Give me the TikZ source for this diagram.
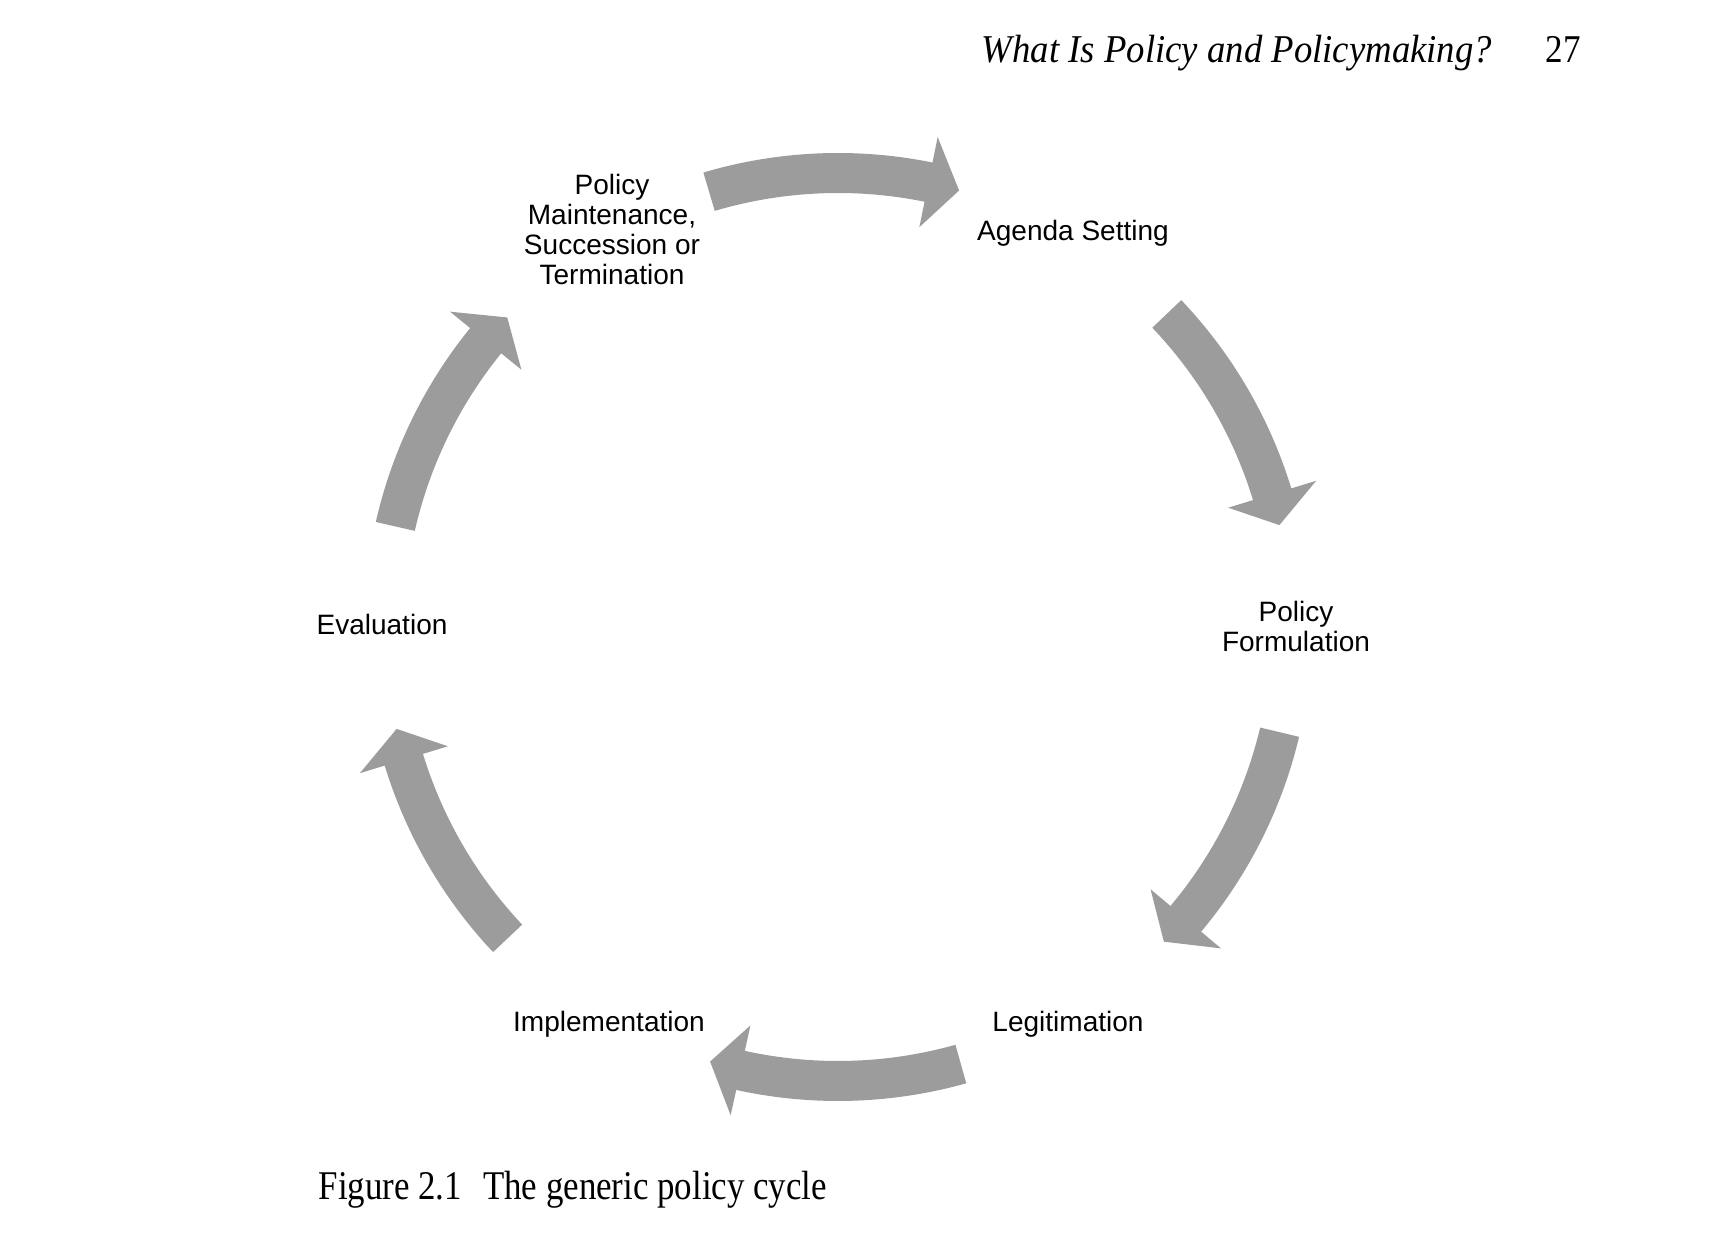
\documentclass[tikz,border=0pt]{standalone}
\usepackage{fontspec}
\setmainfont{Liberation Serif}
\setsansfont{Liberation Sans}
\usepackage{graphicx}
\definecolor{arrowgray}{HTML}{9C9C9C}
% curved block arrow on the cycle: #1 = tail angle, #2 = tip angle (clockwise)
\newcommand\cycarrow[2]{%
  \pgfmathsetmacro\headang{#2+4}%
  \fill[cyclearrow] (#1:474) arc[start angle=#1, end angle=\headang, radius=474]
    -- (\headang:500) -- (#2:453) -- (\headang:408) -- (\headang:434)
    arc[start angle=\headang, end angle=#1, radius=434] -- cycle;}
\begin{document}
\begin{tikzpicture}[x=0.01cm,y=0.01cm,
  cyclearrow/.style={fill=arrowgray},
  lbl/.style={font=\sffamily\fontsize{7.97}{8.54}\selectfont, align=center, inner sep=0pt, anchor=base},
  serifbox/.style={inner sep=0pt, anchor=base west}]
\useasboundingbox[fill=white] (0,0) rectangle (1712,1248);

% running head
\node[serifbox] (hdr) at (981,1185)
  {\resizebox{5.10cm}{\height}{\fontsize{11.2}{13}\selectfont\itshape What Is Policy and Policymaking?}};
\node[serifbox] (pg) at (1545,1185)
  {\resizebox{0.35cm}{\height}{\fontsize{11.2}{13}\selectfont 27}};

% stage labels (anchor = baseline of last line)
\node[lbl] (maint) at (612,963) {Policy\\Maintenance,\\Succession or\\Termination};
\node[lbl] (agenda) at (1073,1007) {Agenda Setting};
\node[lbl] (form) at (1296,596) {Policy\\Formulation};
\node[lbl] (legit) at (1068,217) {Legitimation};
\node[lbl] (impl) at (609,217) {Implementation};
\node[lbl] (eval) at (382,613) {Evaluation};

% cycle arrows
\begin{scope}[shift={(838,621)}]
  \cycarrow{106.5}{74.5}
  \cycarrow{43.6}{13.0}
  \cycarrow{-13.4}{-44.0}
  \cycarrow{-74.3}{-106.4}
  \cycarrow{-136.7}{-167.0}
  \cycarrow{167.2}{136.9}
\end{scope}

% caption
\node[serifbox] (cap) at (318,49)
  {\resizebox{5.08cm}{\height}{\fontsize{11.6}{14}\selectfont Figure 2.1\hspace{0.6em}The generic policy cycle}};
\end{tikzpicture}
\end{document}
